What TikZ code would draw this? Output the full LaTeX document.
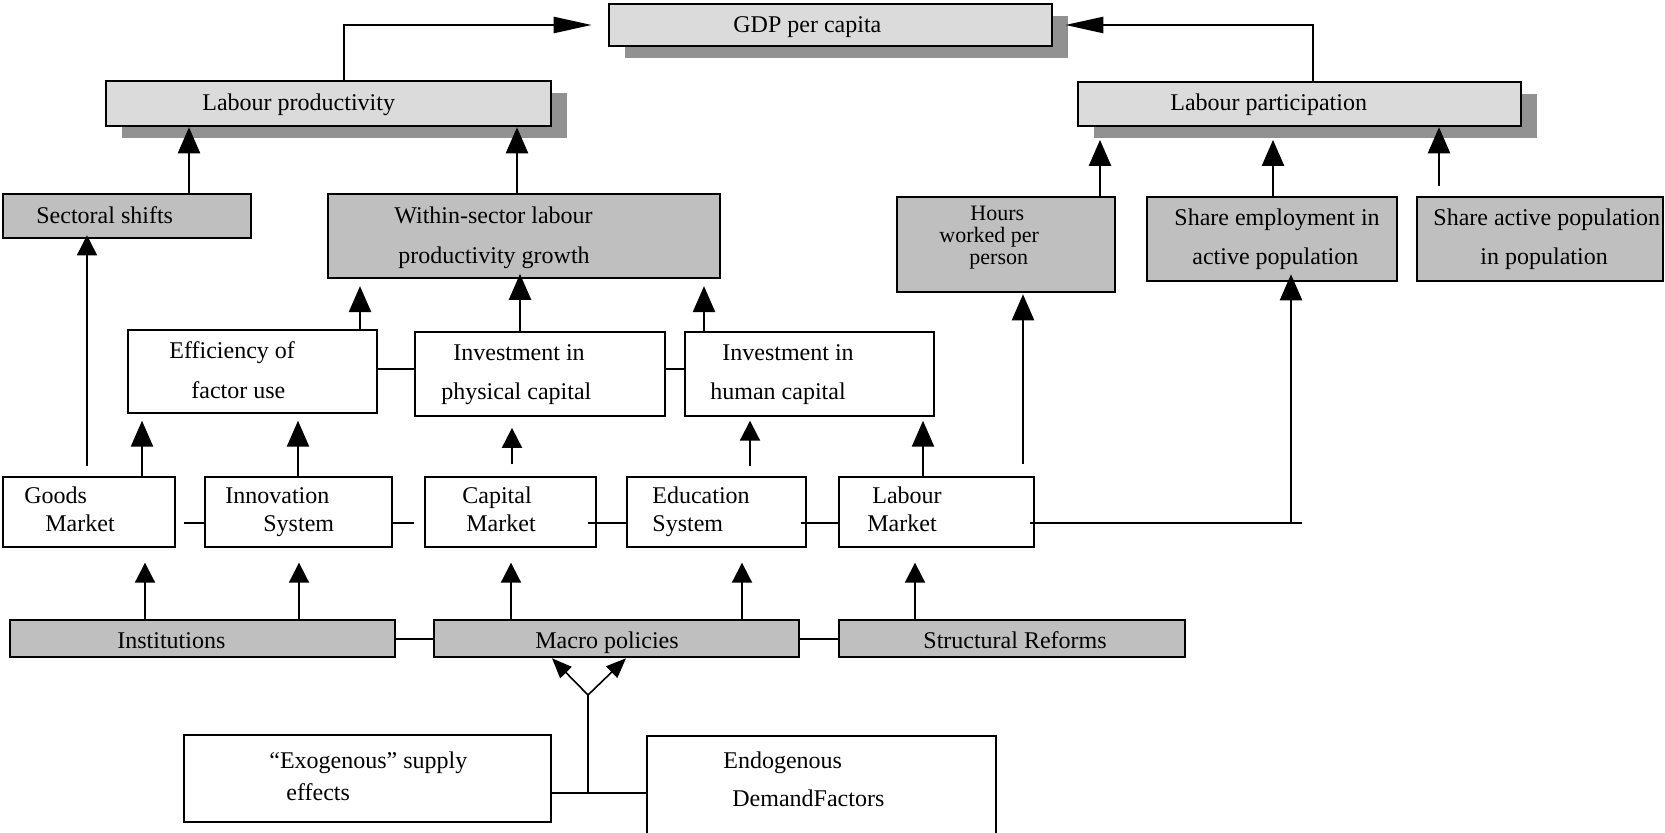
\documentclass[tikz,border=0pt]{standalone}
\usepackage{fontspec}
\setmainfont{Liberation Serif}
\usetikzlibrary{arrows.meta, fit, shadows}

\definecolor{boxlight}{gray}{0.86}
\definecolor{boxdark}{gray}{0.75}
\definecolor{boxshade}{gray}{0.57}

\begin{document}
\begin{tikzpicture}[x=0.5pt, y=-0.5pt,
    whitebox/.style={draw, line width=1.3pt, inner sep=0pt, fill=white},
    lightbox/.style={whitebox, fill=boxlight,
      drop shadow={shadow xshift=8pt, shadow yshift=-6pt, fill=boxshade, opacity=1}},
    darkbox/.style={whitebox, fill=boxdark},
    txt/.style={anchor=base west, inner sep=0pt, font=\fontsize{12pt}{14pt}\selectfont},
    tighttxt/.style={txt, font=\fontsize{11pt}{12pt}\selectfont},
    uparr/.style={-{Triangle[length=13pt, width=11pt]}, line width=1.2pt},
    smallarr/.style={-{Triangle[length=10pt, width=10pt]}, line width=1pt},
    sidearr/.style={-{Triangle[length=19pt, width=8pt]}, line width=1.2pt},
    forkarr/.style={-{Triangle[length=10pt, width=8pt]}, line width=0.8pt},
    joint/.style={line width=1pt},
    slim/.style={line width=0.8pt}]
    \path[use as bounding box] (0,0) rectangle (1665,833);
    \clip (0,0) rectangle (1665,833);

    % Define boxes
    \node[lightbox, fit={(609,4) (1052,46)}] (gdp) {};
    \node[lightbox, fit={(106,81) (551,126)}] (lprod) {};
    \node[lightbox, fit={(1078,82) (1521,126)}] (lpart) {};
    \node[darkbox, fit={(3,194) (251,238)}] (ss) {};
    \node[darkbox, fit={(328,194) (720,278)}] (within) {};
    \node[darkbox, fit={(897,197) (1115,292)}] (hours) {};
    \node[darkbox, fit={(1147,197) (1397,281)}] (se) {};
    \node[darkbox, fit={(1417,197) (1663,281)}] (sap) {};
    \node[whitebox, fit={(128,330) (377,413)}] (eff) {};
    \node[whitebox, fit={(415,332) (665,416)}] (ipc) {};
    \node[whitebox, fit={(685,332) (934,416)}] (ihc) {};
    \node[whitebox, fit={(3,477) (175,547)}] (goods) {};
    \node[whitebox, fit={(205,477) (392,547)}] (innov) {};
    \node[whitebox, fit={(425,477) (596,547)}] (capm) {};
    \node[whitebox, fit={(627,477) (806,547)}] (edu) {};
    \node[whitebox, fit={(839,477) (1034,547)}] (labm) {};
    \node[darkbox, fit={(10,620) (395,657)}] (inst) {};
    \node[darkbox, fit={(434,620) (799,657)}] (macro) {};
    \node[darkbox, fit={(839,620) (1185,657)}] (struct) {};
    \node[whitebox, fit={(184,735) (551,822)}] (exo) {};
    \node[whitebox, fit={(647,736) (996,850)}] (endo) {};

    % Define texts
    \node[txt] (gdp-t) at (733,33) {GDP per capita};
    \node[txt] (lprod-t) at (202,111) {Labour productivity};
    \node[txt] (lpart-t) at (1170,111) {Labour participation};
    \node[txt] (ss-t) at (36,224) {Sectoral shifts};
    \node[txt] (within-t1) at (394,224) {Within-sector labour};
    \node[txt] (within-t2) at (398,264) {productivity growth};
    \node[tighttxt] (hours-t1) at (970,221) {Hours};
    \node[tighttxt] (hours-t2) at (939,243) {worked per};
    \node[tighttxt] (hours-t3) at (969,265) {person};
    \node[txt] (se-t1) at (1174,226) {Share employment in};
    \node[txt] (se-t2) at (1192,265) {active population};
    \node[txt] (sap-t1) at (1433,226) {Share active population};
    \node[txt] (sap-t2) at (1480,265) {in population};
    \node[txt] (eff-t1) at (169,359) {Efficiency of};
    \node[txt] (eff-t2) at (191,399) {factor use};
    \node[txt] (ipc-t1) at (453,361) {Investment in};
    \node[txt] (ipc-t2) at (441,400) {physical capital};
    \node[txt] (ihc-t1) at (722,361) {Investment in};
    \node[txt] (ihc-t2) at (710,400) {human capital};
    \node[txt] (goods-t1) at (24,504) {Goods};
    \node[txt] (goods-t2) at (45,532) {Market};
    \node[txt] (innov-t1) at (225,504) {Innovation};
    \node[txt] (innov-t2) at (263,532) {System};
    \node[txt] (capm-t1) at (462,504) {Capital};
    \node[txt] (capm-t2) at (466,532) {Market};
    \node[txt] (edu-t1) at (652,504) {Education};
    \node[txt] (edu-t2) at (652,532) {System};
    \node[txt] (labm-t1) at (872,504) {Labour};
    \node[txt] (labm-t2) at (867,532) {Market};
    \node[txt] (inst-t) at (117,648) {Institutions};
    \node[txt] (macro-t) at (535,648) {Macro policies};
    \node[txt] (struct-t) at (923,648) {Structural Reforms};
    \node[txt] (exo-t1) at (269,768) {“Exogenous” supply};
    \node[txt] (exo-t2) at (286,800) {effects};
    \node[txt] (endo-t1) at (723,768) {Endogenous};
    \node[txt] (endo-t2) at (732,806) {DemandFactors};

    % Define connections
    \draw[sidearr] (lprod.north -| 344,0) |- ([xshift=-8pt]gdp.west);
    \draw[sidearr] (lpart.north -| 1313,0) |- ([xshift=6pt]gdp.east);
    \draw[uparr] (ss.north -| 189,0) -- (lprod.south -| 189,0);
    \draw[uparr] (within.north -| 517,0) -- (lprod.south -| 517,0);
    \draw[uparr, shorten >=6.3pt] (hours.north -| 1100,0) -- (lpart.south -| 1100,0);
    \draw[uparr, shorten >=6.3pt] (se.north -| 1273,0) -- (lpart.south -| 1273,0);
    \draw[uparr, shorten <=5pt] (sap.north -| 1439,0) -- (lpart.south -| 1439,0);

    \draw[uparr, shorten >=3.4pt] (eff.north -| 360,0) -- (within.south -| 360,0);
    \draw[uparr, shorten >=-2.7pt] (ipc.north -| 520,0) -- (within.south -| 520,0);
    \draw[uparr, shorten >=3.4pt] (ihc.north -| 704,0) -- (within.south -| 704,0);
    \draw[joint] (eff.east |- 0,369) -- (ipc.west |- 0,369);
    \draw[joint] (ipc.east |- 0,369) -- (ihc.west |- 0,369);

    \draw[smallarr, slim, shorten <=5pt, shorten >=-2pt] (goods.north -| 87,0) -- (ss.south -| 87,0);
    \draw[uparr, shorten >=3.2pt] (goods.north -| 142,0) -- (eff.south -| 142,0);
    \draw[uparr, shorten >=3.2pt] (innov.north -| 298,0) -- (eff.south -| 298,0);
    \draw[smallarr, shorten <=5.6pt, shorten >=5.3pt] (capm.north -| 512,0) -- (ipc.south -| 512,0);
    \draw[smallarr, shorten <=5pt, shorten >=1.7pt] (edu.north -| 750,0) -- (ihc.south -| 750,0);
    \draw[uparr, shorten >=1.7pt] (labm.north -| 923,0) -- (ihc.south -| 923,0);
    \draw[uparr, shorten <=6pt, shorten >=0.5pt] (labm.north -| 1023,0) -- (hours.south -| 1023,0);

    \draw[joint, shorten <=3.7pt] (goods.east |- 0,523) -- (innov.west |- 0,523);
    \draw[joint, shorten >=4.7pt] (innov.east |- 0,523) -- (capm.west |- 0,523);
    \draw[joint, shorten <=-4.6pt] (capm.east |- 0,523) -- (edu.west |- 0,523);
    \draw[joint, shorten <=-3.3pt] (edu.east |- 0,523) -- (labm.west |- 0,523);
    \coordinate (lmend) at (1302,523);
    \draw[line width=1.2pt, shorten <=-2.5pt] (labm.east |- lmend) -- (lmend);
    \draw[uparr, shorten >=-4pt] (lmend -| 1291,0) -- (se.south -| 1291,0);

    \draw[smallarr, shorten >=7.2pt] (inst.north -| 145,0) -- (goods.south -| 145,0);
    \draw[smallarr, shorten >=7.2pt] (inst.north -| 299,0) -- (innov.south -| 299,0);
    \draw[smallarr, shorten >=7.2pt] (macro.north -| 511,0) -- (capm.south -| 511,0);
    \draw[smallarr, shorten >=7.2pt] (macro.north -| 742,0) -- (edu.south -| 742,0);
    \draw[smallarr, shorten >=7.2pt] (struct.north -| 915,0) -- (labm.south -| 915,0);
    \draw[joint] (inst.east) -- (macro.west);
    \draw[joint] (macro.east) -- (struct.west);

    \coordinate (split) at (588,695);
    \draw[slim, shorten <=-1pt] (exo.east |- 0,793) -- (endo.west |- 0,793);
    \draw[slim] (split |- 0,793) -- (split);
    \draw[forkarr] (split) -- (macro.south -| 552,0);
    \draw[forkarr] (split) -- (macro.south -| 626,0);
\end{tikzpicture}
\end{document}
